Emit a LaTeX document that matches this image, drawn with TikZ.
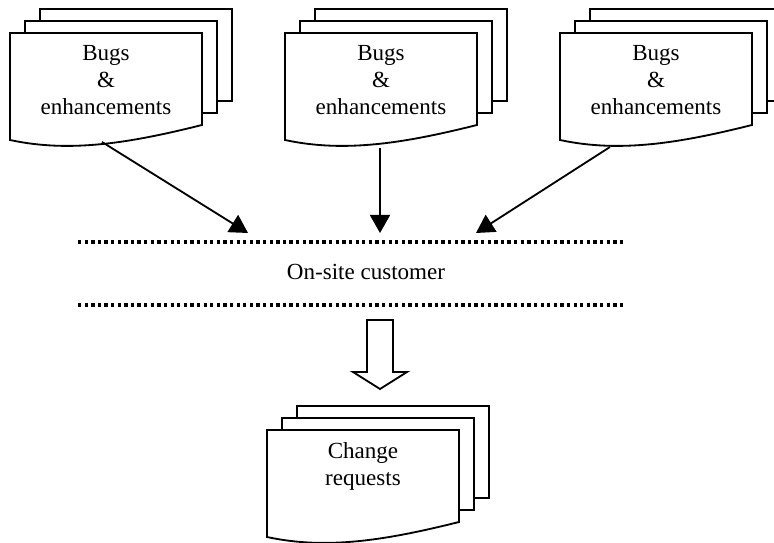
\documentclass[tikz,border=0pt]{standalone}
\usepackage{fontspec}
\setmainfont{Liberation Serif}
\usetikzlibrary{arrows.meta}

\begin{document}
\begin{tikzpicture}[>={Triangle[length=0.45cm, width=0.5cm]},
  page/.style={draw=black, fill=white, line width=1.3pt},
  pagetext/.style={anchor=north, align=center, inner sep=0pt, font=\fontsize{16.4}{19.2}\selectfont},
  dotline/.style={line width=2.35pt, dash pattern=on 2.35pt off 2.35pt},
  docstack/.pic={
    \filldraw[page] (0.75,0.6) rectangle (5.55,-1.7);
    \filldraw[page] (0.375,0.3) rectangle (5.175,-2.0);
    \filldraw[page] (0,0) -- (4.8,0) -- (4.8,-2.3)
      .. controls (3.0,-2.75) and (1.5,-3.0) .. (0,-2.675) -- cycle;
    \node[pagetext] (-text) at (2.4,-0.3) {#1};
  }]

% Frame
\useasboundingbox (0,0) rectangle (19.35,13.575);
\clip (0,0) rectangle (19.35,13.575);

% --- Incoming document stacks ---
\pic (bugsA) at (0.25,12.75) {docstack={Bugs\\\&\\enhancements}};
\pic (bugsB) at (7.125,12.75) {docstack={Bugs\\\&\\enhancements}};
\pic (bugsC) at (14.0,12.75) {docstack={Bugs\\\&\\enhancements}};

% --- On-site customer band ---
\draw[dotline] (1.95,7.525) -- (15.65,7.525);
\node[anchor=base, font=\fontsize{16.4}{19.2}\selectfont] (customer) at (9.15,6.575) {On-site customer};
\draw[dotline] (1.95,5.95) -- (15.65,5.95);

% Arrows into the band
\coordinate (footA) at (2.55,10.025);
\coordinate (footB) at (9.5,9.875);
\coordinate (footC) at (15.25,9.9);
\coordinate (tipA) at (6.2,7.75);
\coordinate (tipB) at (9.5,7.75);
\coordinate (tipC) at (11.9,7.75);
\draw[->, line width=1.3pt] (footA) -- (tipA);
\draw[->, line width=1.3pt] (footB) -- (tipB);
\draw[->, line width=1.3pt] (footC) -- (tipC);

% Hollow arrow down
\draw[line width=1.3pt, fill=white] (9.175,5.575) -- (9.825,5.575) -- (9.825,4.275) -- (10.175,4.275)
  -- (9.5,3.85) -- (8.825,4.275) -- (9.175,4.275) -- cycle;

% --- Outgoing stack ---
\pic (changes) at (6.675,2.825) {docstack={Change\\requests}};

\end{tikzpicture}
\end{document}
